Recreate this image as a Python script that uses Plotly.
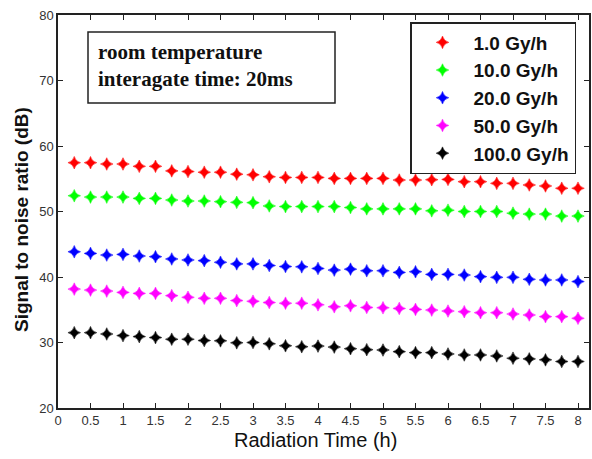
import plotly.graph_objects as go

time_h = [0.25, 0.5, 0.75, 1.0, 1.25, 1.5, 1.75, 2.0, 2.25, 2.5, 2.75, 3.0, 3.25, 3.5, 3.75, 4.0,
          4.25, 4.5, 4.75, 5.0, 5.25, 5.5, 5.75, 6.0, 6.25, 6.5, 6.75, 7.0, 7.25, 7.5, 7.75, 8.0]

snr_1 = [57.45, 57.45, 57.25, 57.25, 56.9, 56.9, 56.2, 56.1, 56.0, 56.0, 55.7, 55.6, 55.3, 55.2, 55.2, 55.2,
         55.05, 55.05, 55.05, 55.05, 54.8, 54.8, 54.85, 54.9, 54.55, 54.55, 54.3, 54.3, 54.05, 53.9, 53.55, 53.55]
snr_10 = [52.4, 52.2, 52.2, 52.2, 52.0, 52.0, 51.75, 51.6, 51.6, 51.5, 51.4, 51.35, 50.85, 50.75, 50.75, 50.75,
          50.75, 50.6, 50.4, 50.4, 50.4, 50.4, 50.1, 50.2, 50.0, 50.0, 50.0, 49.75, 49.6, 49.6, 49.3, 49.3]
snr_20 = [43.85, 43.6, 43.35, 43.45, 43.2, 43.1, 42.75, 42.6, 42.5, 42.25, 42.0, 42.0, 41.75, 41.6, 41.55, 41.3,
          41.05, 41.2, 40.95, 40.95, 40.7, 40.8, 40.4, 40.4, 40.3, 40.05, 39.95, 39.95, 39.65, 39.55, 39.55, 39.3]
snr_50 = [38.15, 38.0, 37.85, 37.65, 37.5, 37.5, 37.15, 36.9, 36.75, 36.75, 36.4, 36.3, 36.1, 36.0, 36.0, 35.75,
          35.45, 35.6, 35.35, 35.3, 35.2, 35.05, 34.95, 34.8, 34.7, 34.55, 34.55, 34.35, 34.2, 33.95, 33.95, 33.7]
snr_100 = [31.5, 31.5, 31.3, 31.05, 30.9, 30.75, 30.5, 30.5, 30.3, 30.25, 29.95, 30.0, 29.8, 29.5, 29.35, 29.45,
           29.3, 29.05, 28.9, 28.85, 28.6, 28.45, 28.45, 28.25, 28.1, 28.1, 27.95, 27.6, 27.5, 27.35, 27.1, 27.1]

series_names = ["1.0 Gy/h", "10.0 Gy/h", "20.0 Gy/h", "50.0 Gy/h", "100.0 Gy/h"]
series_values = [snr_1, snr_10, snr_20, snr_50, snr_100]
series_colors = ["#ff0000", "#00ff00", "#0000ff", "#ff00ff", "#000000"]

x_ticks = [0, 0.5, 1, 1.5, 2, 2.5, 3, 3.5, 4, 4.5, 5, 5.5, 6, 6.5, 7, 7.5, 8]
x_tick_text = ["0", "0.5", "1", "1.5", "2", "2.5", "3", "3.5", "4", "4.5", "5", "5.5", "6", "6.5", "7", "7.5", "8"]
y_ticks = [20, 30, 40, 50, 60, 70, 80]

W, H = 592, 459
ML, MR, MT, MB = 58, 3, 15, 51
PW, PH = W - ML - MR, H - MT - MB


def px(xp):
    return (xp - ML) / PW


def py(yp):
    return (H - MB - yp) / PH


fig = go.Figure()
for i, (name, vals, col) in enumerate(zip(series_names, series_values, series_colors)):
    fig.add_trace(go.Scatter(
        x=time_h, y=vals, mode="markers", name=name, legendgroup=f"g{i}",
        marker=dict(symbol="star-diamond", size=9, color=col, line=dict(width=0.5, color=col)),
    ))

axis_common = dict(
    showgrid=False, zeroline=False, showline=True, linecolor="#222", linewidth=1.5,
    mirror="ticks", ticks="inside", ticklen=5, tickwidth=1.2, tickcolor="#222",
    tickfont=dict(family="Liberation Sans", size=13, color="#333"),
)

fig.update_layout(
    width=W, height=H,
    margin=dict(l=ML, r=MR, t=MT, b=MB, autoexpand=False),
    paper_bgcolor="white", plot_bgcolor="white",
    xaxis=dict(range=[0, PW / 65.0], tickvals=x_ticks, ticktext=x_tick_text, **axis_common),
    yaxis=dict(range=[20, 80], tickvals=y_ticks, **axis_common),
    showlegend=True,
    legend=dict(
        x=px(410), xanchor="left", y=py(22), yanchor="top",
        bordercolor="#222", borderwidth=1.5, bgcolor="white",
        font=dict(family="Liberation Sans", size=19, color="#111", weight="bold"),
        itemwidth=52, tracegroupgap=0, traceorder="grouped",
    ),
    shapes=[dict(type="rect", xref="paper", yref="paper",
                 x0=px(88), x1=px(335), y0=py(103), y1=py(32),
                 line=dict(color="#222", width=1.5), fillcolor="white")],
    annotations=[
        dict(text="<b>room temperature<br>interagate time: 20ms</b>", xref="paper", yref="paper",
             x=px(96), y=py(65), xanchor="left", yanchor="middle", align="left", showarrow=False,
             font=dict(family="Liberation Serif", size=21, color="#111")),
        dict(text="Signal to noise ratio (dB)", xref="paper", yref="paper",
             x=px(22), y=py(220), xanchor="center", yanchor="middle", textangle=-90, showarrow=False,
             font=dict(family="Liberation Sans", size=19, color="#111", weight="bold")),
        dict(text="Radiation Time (h)", xref="paper", yref="paper",
             x=px(315), y=py(440), xanchor="center", yanchor="middle", showarrow=False,
             font=dict(family="Liberation Sans", size=20, color="#111")),
    ],
)

fig.write_html("out.html")
